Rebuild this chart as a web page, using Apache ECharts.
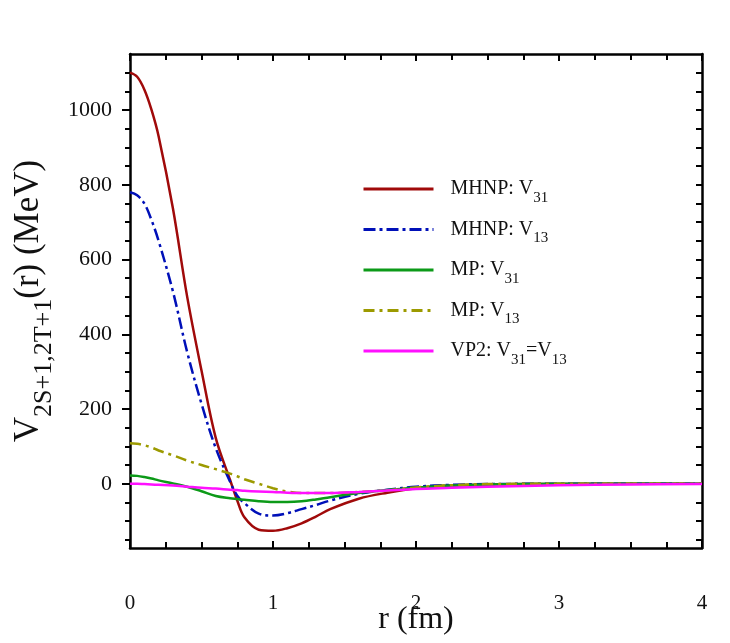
<!DOCTYPE html>
<html>
<head>
<meta charset="utf-8">
<script src="https://cdn.jsdelivr.net/npm/echarts@6/dist/echarts.min.js"></script>
<style>
  html, body { margin: 0; padding: 0; background: #fff; }
  #chart { width: 730px; height: 643px; }
</style>
</head>
<body>
<div id="chart"></div>
<script>
// r 网格 (fm)
var rValues = [0, 0.05, 0.1, 0.15, 0.2, 0.3, 0.4, 0.5, 0.6, 0.7, 0.75, 0.8, 0.9, 1.0, 1.1, 1.2, 1.3, 1.4, 1.6, 1.8, 2.0, 2.25, 2.5, 3.0, 3.5, 4.0];

// 各势曲线 (MeV)
var mhnpV31 = [1100, 1089, 1055, 1001, 930, 737, 500, 303, 122, 10, -45, -90, -123, -126, -119, -106, -88, -68, -40, -24, -12, -5, -2, -0.5, 0, 0];
var mhnpV13 = [780, 772, 750, 706, 650, 515, 352, 214, 95, 5, -32, -52, -80, -85, -79, -68, -57, -45, -27, -16, -8, -3, -1, 0, 0, 0];
var mpV31 = [22, 21, 18, 14, 9, 1, -8, -20, -33, -39, -41, -43, -47, -49, -49, -47, -42, -36, -25, -17, -11, -5, -2, 0, 0, 0];
var mpV13 = [108, 107, 103, 97, 89, 76, 62, 50, 39, 27, 20, 12, 0, -12, -21, -25, -25, -25, -22, -18, -10, -4, -1, 0, 0, 0];
var vp2 = [0, 0, -1, -2, -3, -5, -8, -11, -13, -16, -17, -19, -21, -22, -24, -25, -25, -25, -22, -18, -14, -11, -8, -4, -2, -1];

// 图例名称
var seriesNames = ['MHNP: V31', 'MHNP: V13', 'MP: V31', 'MP: V13', 'VP2: V31=V13'];
var legendLabels = ['MHNP: V{sub|31}', 'MHNP: V{sub|13}', 'MP: V{sub|31}', 'MP: V{sub|13}', 'VP2: V{sub|31}=V{sub|13}'];

// 刻度
var yMajorTicks = [0, 200, 400, 600, 800, 1000];
var yMinorTicks = [-150, -100, -50, 0, 50, 100, 150, 200, 250, 300, 350, 400, 450, 500, 550, 600, 650, 700, 750, 800, 850, 900, 950, 1000, 1050, 1100];

var FONT = 'Liberation Serif';

function pairs(vals) {
    return rValues.map(function (r, i) { return [r, vals[i]] })
}

var chart = echarts.init(document.getElementById('chart'));

var yMin = -172, yMax = 1150;

var options = {
    backgroundColor: '#fff',
    animation: false,
    grid: { left: 130, right: 28, top: 54, bottom: 95, outerBoundsMode: 'none' },
    legend: {
        orient: 'vertical',
        left: 362,
        top: 179,
        padding: 0,
        itemWidth: 70,
        itemHeight: 14,
        itemGap: 14,
        data: seriesNames,
        formatter: function (name) {
            return legendLabels[seriesNames.indexOf(name)]
        },
        itemStyle: { opacity: 0 },
        lineStyle: { width: 3 },
        textStyle: {
            fontFamily: FONT,
            fontSize: 20,
            color: '#111',
            padding: [0, 0, 0, 12],
            rich: {
                sub: { fontFamily: FONT, fontSize: 15, color: '#111', padding: [18, 0, 0, 0] }
            }
        }
    },
    xAxis: [{
        type: 'value',
        min: 0, max: 4, interval: 1,
        position: 'bottom',
        name: 'r (fm)',
        nameLocation: 'middle',
        nameGap: 56,
        nameMoveOverlap: false,
        nameTextStyle: { fontFamily: FONT, fontSize: 32, color: '#111' },
        axisLine: { show: true, onZero: false, lineStyle: { color: '#000', width: 2.5 } },
        axisTick: { show: true, inside: true, length: 7, lineStyle: { color: '#000', width: 2 } },
        minorTick: { show: true, splitNumber: 4, length: 6, lineStyle: { color: '#000', width: 2 } },
        axisLabel: { margin: 45, fontFamily: FONT, fontSize: 21, color: '#111' },
        splitLine: { show: false }
    }, {
        type: 'value',
        min: 0, max: 4, interval: 1,
        position: 'top',
        axisLine: { show: true, onZero: false, lineStyle: { color: '#000', width: 2.5 } },
        axisTick: { show: true, inside: true, length: 7, lineStyle: { color: '#000', width: 2 } },
        minorTick: { show: true, splitNumber: 4, length: 6, lineStyle: { color: '#000', width: 2 } },
        axisLabel: { show: false },
        splitLine: { show: false }
    }],
    yAxis: [{
        type: 'value',
        min: yMin, max: yMax,
        position: 'left',
        name: 'V{sub|2S+1,2T+1}(r) (MeV)',
        nameLocation: 'middle',
        nameGap: 73,
        nameMoveOverlap: false,
        nameTextStyle: {
            fontFamily: FONT, fontSize: 35, color: '#111',
            rich: {
                sub: { fontFamily: FONT, fontSize: 26, color: '#111', padding: [30, 0, 0, 0] }
            }
        },
        axisLine: { show: true, onZero: false, lineStyle: { color: '#000', width: 2.5 } },
        axisTick: { show: true, customValues: yMajorTicks, length: 8, lineStyle: { color: '#000', width: 2 } },
        axisLabel: {
            customValues: yMajorTicks, margin: 18, fontFamily: FONT, fontSize: 22, color: '#111',
            formatter: function (v) { return String(v) }
        },
        splitLine: { show: false }
    }, {
        type: 'value',
        min: yMin, max: yMax,
        position: 'left',
        axisLine: { show: false, onZero: false },
        axisTick: { show: true, customValues: yMinorTicks, length: 5, lineStyle: { color: '#000', width: 2 } },
        axisLabel: { show: false },
        splitLine: { show: false }
    }, {
        type: 'value',
        min: yMin, max: yMax,
        position: 'right',
        axisLine: { show: true, onZero: false, lineStyle: { color: '#000', width: 2.5 } },
        axisTick: { show: true, inside: true, customValues: yMinorTicks, length: 6, lineStyle: { color: '#000', width: 2 } },
        axisLabel: { show: false },
        splitLine: { show: false }
    }],
    series: []
};

var seriesData = [mhnpV31, mhnpV13, mpV31, mpV13, vp2];
var seriesColors = ['#a00a0a', '#0010b8', '#0c9a18', '#9c9a00', '#ff10ff'];
var seriesTypes = ['solid', [12, 4, 3, 4], 'solid', [11, 5, 3, 5], 'solid'];

seriesNames.forEach(function (name, i) {
    options.series.push({
        name: name,
        type: 'line',
        smooth: 0.35,
        symbol: 'none',
        data: pairs(seriesData[i]),
        color: seriesColors[i],
        lineStyle: { color: seriesColors[i], width: 2.5, type: seriesTypes[i] }
    })
});

chart.setOption(options);
</script>
</body>
</html>
